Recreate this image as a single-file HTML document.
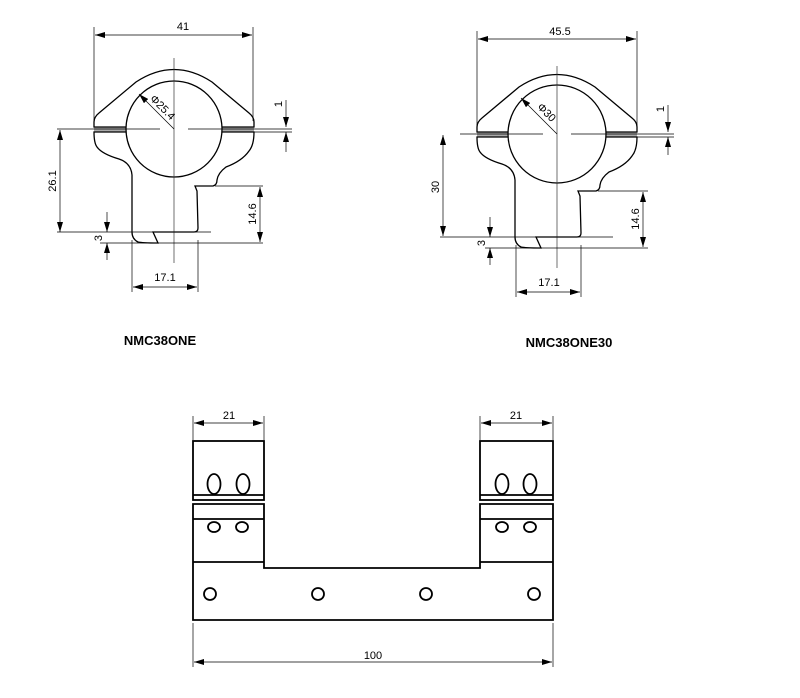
<!DOCTYPE html>
<html><head><meta charset="utf-8"><style>
html,body{margin:0;padding:0;background:#fff;}
svg{display:block;}
text{font-family:"Liberation Sans",Arial,sans-serif;fill:#000;}
</style></head><body>
<svg width="800" height="698" viewBox="0 0 800 698" xmlns="http://www.w3.org/2000/svg">
<defs>
<marker id="a" viewBox="0 0 10 6" refX="10" refY="3" markerWidth="10" markerHeight="6" markerUnits="userSpaceOnUse" orient="auto-start-reverse"><path d="M0,0 L10,3 L0,6 Z" fill="#000"/></marker>
<g id="ring">
  <rect x="-80" y="-1.5" width="160" height="4" fill="#aaa"/>
  <path d="M-80,-2 L-80,-7 Q-80,-12 -75,-16 L-38,-47 Q0,-72 38,-47 L75,-16 Q80,-12 80,-7 L80,-2 Z" fill="#fff" stroke="#000" stroke-width="1.3"/>
  <path d="M-80,3 Q-80,14 -77,18 Q-72,25 -55,30 Q-43,34 -42,46 L-42,103 Q-42,110 -36,113 Q-32,114 -16,114 L-21,103 L20,103 Q24,103 24,99 L23,62 L21,57 L39,57 Q43,56 43,51 Q44,44 52,38 Q68,32 75,22 Q80,16 80,3 Z" fill="#fff" stroke="#000" stroke-width="1.3"/>
</g>
</defs>

<!-- LEFT RING -->
<g transform="translate(174,129)">
  <use href="#ring"/>
  <circle cx="0" cy="0" r="48" fill="#fff" stroke="#000" stroke-width="1.3"/>
</g>
<g stroke="#000" stroke-width="0.7" fill="none">
  <line x1="174" y1="58" x2="174" y2="263" stroke="#333"/>
  <line x1="57" y1="129" x2="160" y2="129"/><line x1="188" y1="129" x2="292" y2="129"/>
  <line x1="94" y1="27" x2="94" y2="121"/><line x1="253" y1="27" x2="253" y2="121"/>
  <line x1="95" y1="35" x2="252" y2="35" marker-start="url(#a)" marker-end="url(#a)"/>
  <line x1="60" y1="130" x2="60" y2="232" marker-start="url(#a)" marker-end="url(#a)"/>
  <line x1="57" y1="232" x2="211" y2="232"/>
  <line x1="100" y1="243" x2="263" y2="243"/>
  <line x1="215" y1="186" x2="263" y2="186"/>
  <line x1="260" y1="187" x2="260" y2="242" marker-start="url(#a)" marker-end="url(#a)"/>
  <line x1="107" y1="212" x2="107" y2="232" marker-end="url(#a)"/>
  <line x1="107" y1="260" x2="107" y2="243" marker-end="url(#a)"/>
  <line x1="286" y1="100" x2="286" y2="127" marker-end="url(#a)"/>
  <line x1="286" y1="152" x2="286" y2="132" marker-end="url(#a)"/>
  <line x1="250" y1="132" x2="292" y2="132"/>
  <line x1="132" y1="240" x2="132" y2="292"/><line x1="198" y1="240" x2="198" y2="292"/>
  <line x1="133" y1="287" x2="197" y2="287" marker-start="url(#a)" marker-end="url(#a)"/>
  <line x1="174" y1="129" x2="139" y2="94" marker-end="url(#a)"/>
</g>
<text x="183" y="30" font-size="11" text-anchor="middle">41</text>
<text transform="translate(56,181) rotate(-90)" font-size="11" text-anchor="middle">26.1</text>
<text transform="translate(256,214) rotate(-90)" font-size="11" text-anchor="middle">14.6</text>
<text transform="translate(102,238) rotate(-90)" font-size="11" text-anchor="middle">3</text>
<text transform="translate(282,104) rotate(-90)" font-size="11" text-anchor="middle">1</text>
<text x="165" y="281" font-size="11" text-anchor="middle">17.1</text>
<text transform="translate(160,110) rotate(45)" font-size="11" text-anchor="middle">Φ25.4</text>
<text x="160" y="345" font-size="13" font-weight="bold" text-anchor="middle">NMC38ONE</text>

<!-- RIGHT RING -->
<g transform="translate(557,134)">
  <use href="#ring"/>
  <circle cx="0" cy="0" r="49" fill="#fff" stroke="#000" stroke-width="1.3"/>
</g>
<g stroke="#000" stroke-width="0.7" fill="none">
  <line x1="557" y1="66" x2="557" y2="268" stroke="#333"/>
  <line x1="460" y1="134" x2="543" y2="134"/><line x1="571" y1="134" x2="674" y2="134"/>
  <line x1="477" y1="31" x2="477" y2="126"/><line x1="637" y1="31" x2="637" y2="126"/>
  <line x1="478" y1="39" x2="636" y2="39" marker-start="url(#a)" marker-end="url(#a)"/>
  <line x1="443" y1="135" x2="443" y2="236" marker-start="url(#a)" marker-end="url(#a)"/>
  <line x1="440" y1="237" x2="613" y2="237"/>
  <line x1="485" y1="248" x2="648" y2="248"/>
  <line x1="598" y1="191" x2="648" y2="191"/>
  <line x1="643" y1="192" x2="643" y2="247" marker-start="url(#a)" marker-end="url(#a)"/>
  <line x1="490" y1="217" x2="490" y2="237" marker-end="url(#a)"/>
  <line x1="490" y1="265" x2="490" y2="248" marker-end="url(#a)"/>
  <line x1="668" y1="105" x2="668" y2="132" marker-end="url(#a)"/>
  <line x1="668" y1="155" x2="668" y2="137" marker-end="url(#a)"/>
  <line x1="633" y1="137" x2="674" y2="137"/>
  <line x1="516" y1="245" x2="516" y2="297"/><line x1="581" y1="245" x2="581" y2="297"/>
  <line x1="517" y1="292" x2="580" y2="292" marker-start="url(#a)" marker-end="url(#a)"/>
  <line x1="557" y1="134" x2="521" y2="98" marker-end="url(#a)"/>
</g>
<text x="560" y="35" font-size="11" text-anchor="middle">45.5</text>
<text transform="translate(439,187) rotate(-90)" font-size="11" text-anchor="middle">30</text>
<text transform="translate(639,219) rotate(-90)" font-size="11" text-anchor="middle">14.6</text>
<text transform="translate(485,243) rotate(-90)" font-size="11" text-anchor="middle">3</text>
<text transform="translate(664,109) rotate(-90)" font-size="11" text-anchor="middle">1</text>
<text x="549" y="286" font-size="11" text-anchor="middle">17.1</text>
<text transform="translate(544,115) rotate(45)" font-size="11" text-anchor="middle">Φ30</text>
<text x="569" y="347" font-size="13" font-weight="bold" text-anchor="middle">NMC38ONE30</text>

<!-- BOTTOM MOUNT -->
<g stroke="#000" stroke-width="1.8" fill="none">
  <rect x="193" y="441" width="71" height="59"/>
  <line x1="193" y1="495" x2="264" y2="495"/>
  <rect x="480" y="441" width="73" height="59"/>
  <line x1="480" y1="495" x2="553" y2="495"/>
  <path d="M193,504 L264,504 L264,568 L480,568 L480,504 L553,504 L553,620 L193,620 Z"/>
  <line x1="193" y1="519" x2="264" y2="519"/>
  <line x1="480" y1="519" x2="553" y2="519"/>
  <line x1="193" y1="562" x2="264" y2="562"/>
  <line x1="480" y1="562" x2="553" y2="562"/>
  <ellipse cx="214" cy="484" rx="6.5" ry="10"/><ellipse cx="243" cy="484" rx="6.5" ry="10"/>
  <ellipse cx="502" cy="484" rx="6.5" ry="10"/><ellipse cx="530" cy="484" rx="6.5" ry="10"/>
  <ellipse cx="214" cy="527" rx="6" ry="5"/><ellipse cx="242" cy="527" rx="6" ry="5"/>
  <ellipse cx="502" cy="527" rx="6" ry="5"/><ellipse cx="530" cy="527" rx="6" ry="5"/>
  <circle cx="210" cy="594" r="6"/><circle cx="318" cy="594" r="6"/>
  <circle cx="426" cy="594" r="6"/><circle cx="534" cy="594" r="6"/>
</g>
<g stroke="#000" stroke-width="0.7" fill="none">
  <line x1="193" y1="416" x2="193" y2="440"/><line x1="264" y1="416" x2="264" y2="440"/>
  <line x1="194" y1="423" x2="263" y2="423" marker-start="url(#a)" marker-end="url(#a)"/>
  <line x1="480" y1="416" x2="480" y2="440"/><line x1="553" y1="416" x2="553" y2="440"/>
  <line x1="481" y1="423" x2="552" y2="423" marker-start="url(#a)" marker-end="url(#a)"/>
  <line x1="193" y1="623" x2="193" y2="667"/><line x1="553" y1="623" x2="553" y2="667"/>
  <line x1="194" y1="662" x2="552" y2="662" marker-start="url(#a)" marker-end="url(#a)"/>
</g>
<text x="229" y="419" font-size="11" text-anchor="middle">21</text>
<text x="516" y="419" font-size="11" text-anchor="middle">21</text>
<text x="373" y="659" font-size="11" text-anchor="middle">100</text>
</svg>
</body></html>
